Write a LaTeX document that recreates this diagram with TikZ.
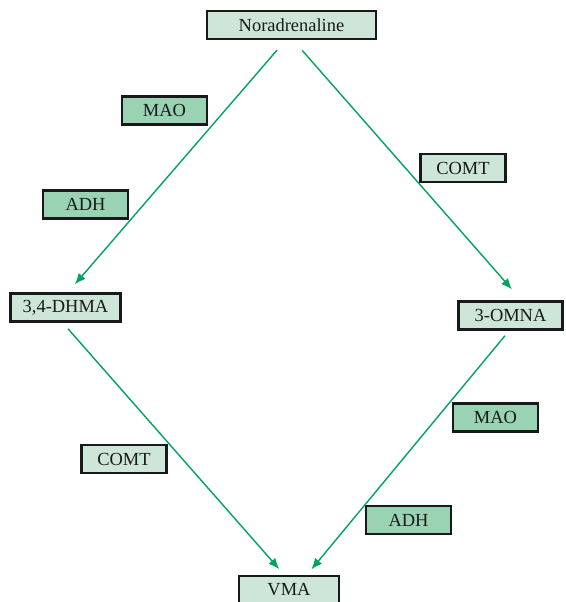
\documentclass[tikz,border=0pt]{standalone}
\usepackage{fontspec}
\setmainfont{Liberation Serif}
\usepackage{tikz}
\usetikzlibrary{calc,arrows.meta,shadows}
\definecolor{nm-text}{HTML}{1A1A1A}
\definecolor{nm-edge}{HTML}{00A460}
\definecolor{nm-pale}{HTML}{CDE6D8}
\definecolor{nm-enz}{HTML}{9AD2B4}

\begin{document}
\begin{tikzpicture}[
    x=0.02cm, y=-0.02cm, % pixel grid of the sketch
    font=\fontsize{10.5}{12}\selectfont,
    >={Latex[length=2.2mm,width=1.8mm]}
  ]

  \tikzset{
    metab/.style={draw=black!90, line width=1.4pt, fill=nm-pale, text=nm-text, minimum height=0.56cm, inner sep=0pt, align=center,
      general shadow={fill=black!30, shadow xshift=0.7pt, shadow yshift=-0.7pt}},
    enz/.style={metab, fill=nm-enz, minimum width=1.7cm},
    enzpale/.style={metab, minimum width=1.7cm},
    flow/.style={->, nm-edge, line width=0.8pt}
  }

  \useasboundingbox (0,0) rectangle (565,602);

  % Metabolites
  \node (nor)  [metab, minimum width=3.38cm] at (291.5,25)  {Noradrenaline};
  \node (dhma) [metab, minimum width=2.2cm]  at (65.5,307.5) {3,4-DHMA};
  \node (omna) [metab, minimum width=2.08cm] at (510.5,315.5) {3-OMNA};
  \node (vma)  [metab, minimum width=2.0cm]  at (289,590)   {VMA};

  % Enzymes
  \node (mao1)  [enz]     at (164.5,110.5) {MAO};
  \node (adh1)  [enz]     at (85.5,204.5)  {ADH};
  \node (comt1) [enzpale] at (463,168)   {COMT};
  \node (comt2) [enzpale] at (124,459)   {COMT};
  \node (mao2)  [enz]     at (495.5,417.5) {MAO};
  \node (adh2)  [enz]     at (408.5,520) {ADH};

  % Pathways
  \draw[flow, shorten <=0.26cm, shorten >=0.21cm] ([xshift=-0.118cm]nor.south) -- ([xshift=0.05cm]dhma.north);
  \draw[flow, shorten <=0.27cm, shorten >=0.29cm] ([xshift=0.035cm]nor.south) -- ([xshift=0.22cm]omna.north);
  \draw[flow, shorten <=0.16cm, shorten >=0.15cm] ([xshift=-0.056cm]dhma.south) -- ([xshift=-0.096cm]vma.north);
  \draw[flow, shorten <=0.13cm, shorten >=0.14cm] ([xshift=-0.028cm]omna.south) -- ([xshift=0.36cm]vma.north);

\end{tikzpicture}
\end{document}
